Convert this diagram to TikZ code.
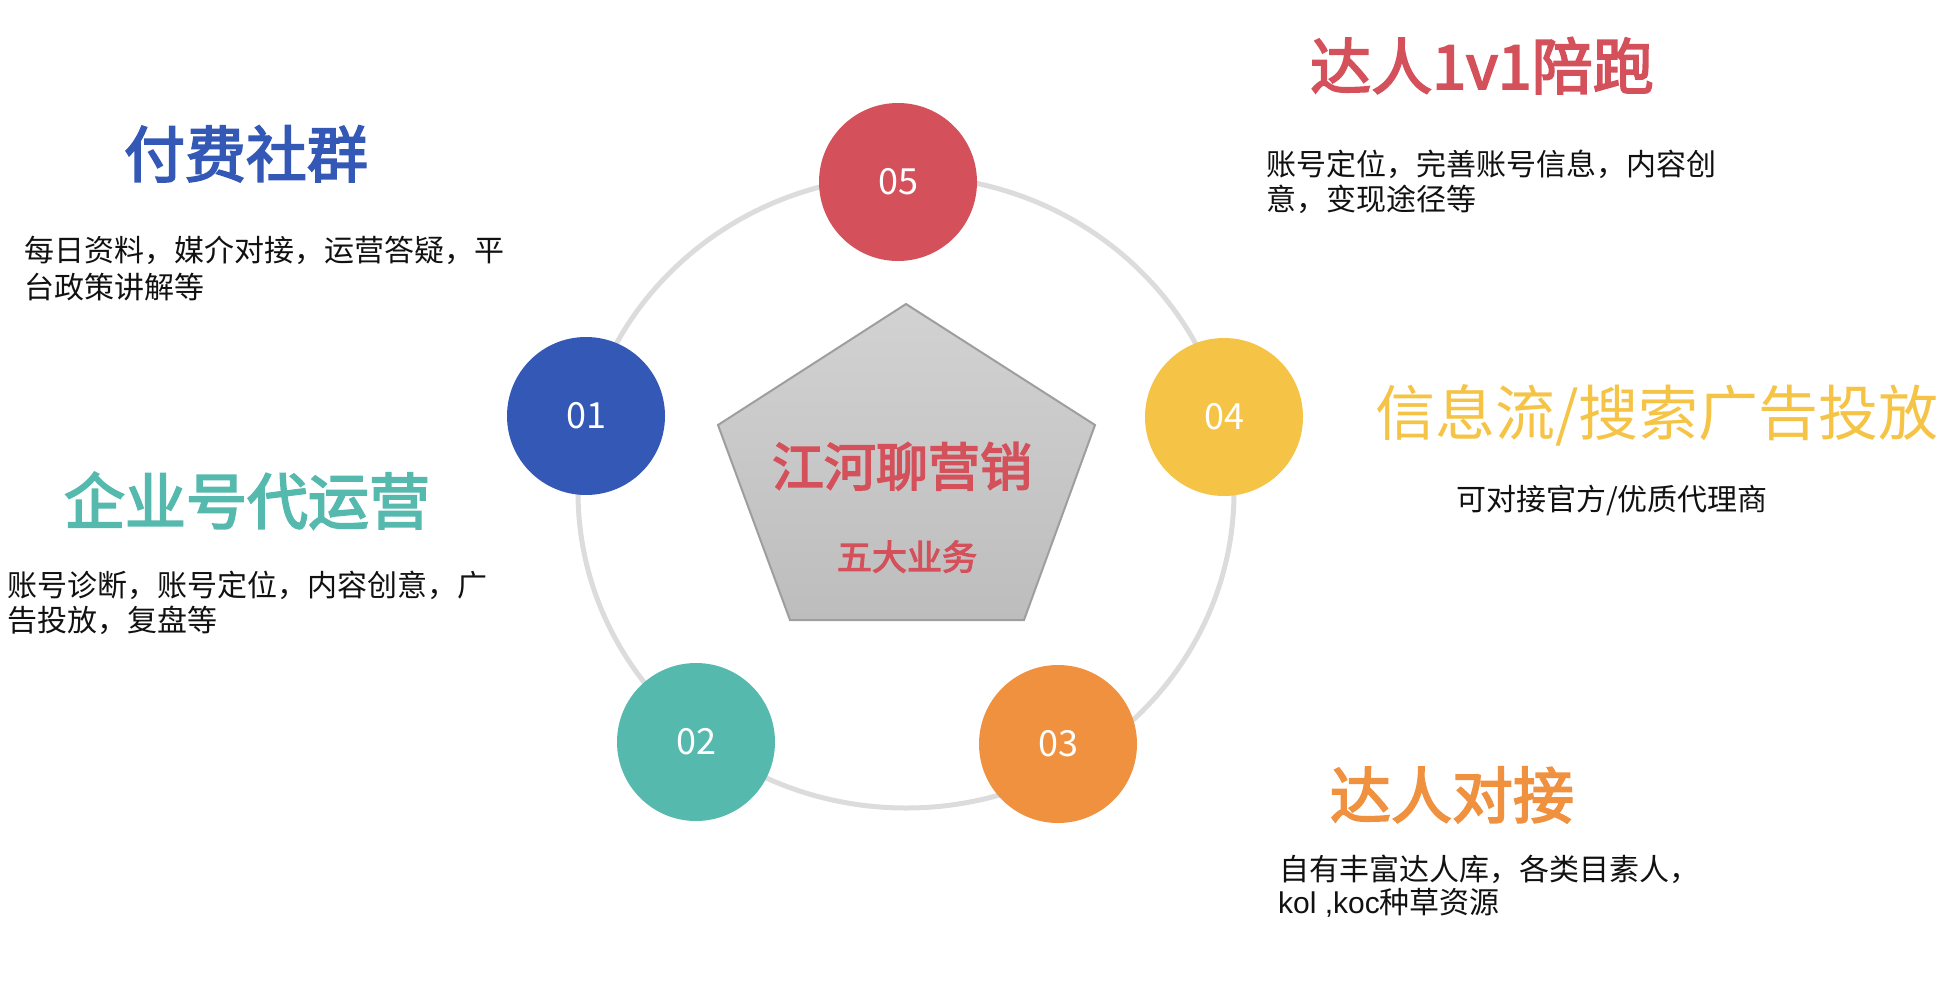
\documentclass[tikz,border=0pt]{standalone}
\usepackage{fontspec}
\setmainfont{Noto Sans CJK SC}
\newfontfamily\latf{Liberation Sans}
\newfontfamily\medf[FakeBold=3]{Noto Sans CJK SC}
\definecolor{cred}{HTML}{D4505A}
\definecolor{cblue}{HTML}{3358B6}
\definecolor{cyellow}{HTML}{F5C446}
\definecolor{cteal}{HTML}{55B9AE}
\definecolor{corange}{HTML}{EF913F}
\definecolor{ringc}{HTML}{DCDCDC}
\definecolor{pentop}{HTML}{D2D2D2}
\definecolor{penbot}{HTML}{BDBDBD}
\definecolor{penedge}{HTML}{9E9E9E}
\definecolor{bodyc}{HTML}{111111}
\tikzset{
  body/.style={anchor=base west, inner sep=0pt, text=bodyc, font=\fontsize{30}{36}\selectfont},
  ttl/.style={anchor=base, inner sep=0pt, font=\fontsize{61}{70}\medf},
  ttlreg/.style={anchor=base, inner sep=0pt, font=\fontsize{60}{70}\selectfont},
  num/.style={circle, minimum size=158pt, inner sep=0pt, text=white, font=\fontsize{36}{36}\selectfont},
  ring/.style={draw=ringc, line width=5pt},
  penta/.style={top color=pentop, bottom color=penbot, draw=penedge, line width=2pt, line join=miter}
}
\begin{document}
\begin{tikzpicture}[x=1pt, y=-1pt]
\useasboundingbox (0,0) rectangle (1952,990);
% ring
\draw[ring] (906,492) ellipse [x radius=328pt, y radius=316pt];
% pentagon
\coordinate (pt) at (906,304);
\coordinate (pl) at (718,425);
\coordinate (pr) at (1095,425);
\coordinate (pbl) at (790,620);
\coordinate (pbr) at (1024,620);
\path[penta] (pt) -- (pr) -- (pbr) -- (pbl) -- (pl) -- cycle;
\node[anchor=base, inner sep=0pt, text=cred, font=\fontsize{52}{60}\medf] (brand) at (902,486) {江河聊营销};
\node[anchor=base, inner sep=0pt, text=cred, font=\fontsize{35}{40}\medf] (five) at (907,570) {五大业务};
% circles
\node[num, fill=cblue] (c01) at (586,416) {01};
\node[num, fill=cteal] (c02) at (696,742) {02};
\node[num, fill=corange] (c03) at (1058,744) {03};
\node[num, fill=cyellow] (c04) at (1224,417) {04};
\node[num, fill=cred] (c05) at (898,182) {05};
% titles
\node[ttl, text=cblue] (t01) at (246,177) {付费社群};
\node[ttl, text=cteal] (t02) at (247,524) {企业号代运营};
\node[ttl, text=corange] (t03) at (1452,818) {达人对接};
\node[ttlreg, text=cyellow] (t04) at (1657,435) {信息流/搜索广告投放};
\node[ttl, text=cred] (t05) at (1482,89) {达人1v1陪跑};
% bodies
\node[body] (b01a) at (24,261) {每日资料，媒介对接，运营答疑，平};
\node[body] (b01b) at (24,298) {台政策讲解等};
\node[body] (b02a) at (7,596) {账号诊断，账号定位，内容创意，广};
\node[body] (b02b) at (7,631) {告投放，复盘等};
\node[body] (b05a) at (1266,175) {账号定位，完善账号信息，内容创};
\node[body] (b05b) at (1266,210) {意，变现途径等};
\node[body] (b04a) at (1456,510) {可对接官方/优质代理商};
\node[body] (b03a) at (1279,880) {自有丰富达人库，各类目素人，};
\node[body] (b03b) at (1278,913) {{\latf kol ,koc}种草资源};
\end{tikzpicture}
\end{document}
